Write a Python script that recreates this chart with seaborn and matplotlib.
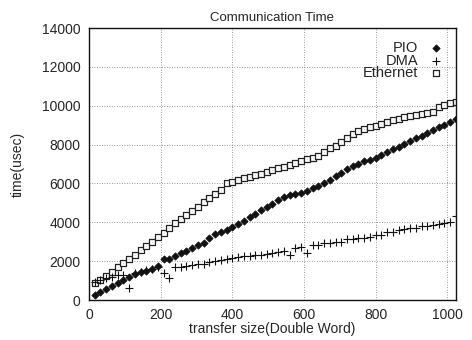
import numpy as np
import pandas as pd
import matplotlib
matplotlib.use('Agg')
import matplotlib.pyplot as plt
import seaborn as sns

# transfer size in double words
size = list(range(16, 1025, 16))

pio = [250, 400, 570, 740, 900, 1040, 1190, 1350, 1420, 1490, 1600, 1750,
       2100, 2110, 2280, 2400, 2540, 2680, 2830, 2960, 3200, 3380, 3480, 3600,
       3780, 3930, 4050, 4250, 4430, 4650, 4800, 4950, 5150, 5280, 5380, 5450,
       5530, 5620, 5750, 5870, 6000, 6190, 6380, 6560, 6720, 6880, 7010, 7130,
       7220, 7310, 7450, 7600, 7750, 7900, 8050, 8200, 8350, 8450, 8600, 8750,
       8880, 9020, 9150, 9320]

dma = [950, 1050, 1150, 1190, 1290, 1290, 620, 1390, 1450, 1550, 1600, 1700,
       1390, 1130, 1700, 1720, 1760, 1800, 1830, 1870, 1950, 2000, 2050, 2130,
       2160, 2200, 2240, 2280, 2300, 2340, 2380, 2420, 2470, 2500, 2330, 2680,
       2750, 2400, 2830, 2850, 2930, 2960, 2990, 3000, 3120, 3150, 3180, 3200,
       3240, 3350, 3350, 3480, 3520, 3600, 3660, 3700, 3720, 3800, 3820, 3850,
       3900, 3950, 4000, 4350]

ethernet = [900, 1030, 1230, 1460, 1700, 1900, 2130, 2330, 2550, 2800, 3000, 3250,
            3450, 3700, 3950, 4150, 4400, 4600, 4800, 5050, 5250, 5450, 5660, 6000,
            6100, 6180, 6260, 6330, 6420, 6500, 6600, 6680, 6780, 6870, 6950, 7030,
            7150, 7250, 7300, 7400, 7600, 7800, 7950, 8150, 8350, 8550, 8700, 8800,
            8880, 8950, 9050, 9150, 9250, 9330, 9400, 9470, 9530, 9600, 9650, 9700,
            9950, 10050, 10150, 10200]

df = pd.DataFrame({'size': size, 'PIO': pio, 'DMA': dma, 'Ethernet': ethernet})

sns.set_style('white')
plt.rcParams['font.family'] = ['Liberation Sans', 'DejaVu Sans']

fig = plt.figure(figsize=(4.72, 3.40), dpi=100)
ax = fig.add_axes([0.1886, 0.1176, 0.7774, 0.80])

# gnuplot style markers
sns.scatterplot(data=df, x='size', y='Ethernet', ax=ax, marker='s', s=22,
                facecolor='white', edgecolor='#222222', linewidth=0.9, label='Ethernet')
sns.scatterplot(data=df, x='size', y='Ethernet', ax=ax, marker='.', s=2,
                color='#444444', linewidth=0, legend=False)
sns.scatterplot(data=df, x='size', y='PIO', ax=ax, marker='D', s=14,
                color='#111111', edgecolor='#111111', linewidth=0.5, label='PIO')
sns.scatterplot(data=df, x='size', y='DMA', ax=ax, marker='+', s=30,
                color='#111111', linewidth=0.8, label='DMA')

ax.set_xlim(0, 1024)
ax.set_ylim(0, 14000)
ax.set_xticks(range(0, 1001, 200))
ax.set_yticks(range(0, 14001, 2000))
ax.grid(True, color='#777777', linestyle=(0, (1, 2)), linewidth=0.6)
ax.tick_params(axis='both', direction='in', length=3, labelsize=10, pad=6, color='#222222')
for sp in ax.spines.values():
    sp.set_color('#111111')
    sp.set_linewidth(1.0)

ax.set_title('Communication Time', fontsize=9.5, pad=5)
ax.set_xlabel('transfer size(Double Word)', fontsize=10, labelpad=0)
ax.set_ylabel('time(usec)', fontsize=10, labelpad=12)

h, l = ax.get_legend_handles_labels()
order = [l.index('PIO'), l.index('DMA'), l.index('Ethernet')]
ax.legend([h[i] for i in order], [l[i] for i in order], loc='upper right',
          markerfirst=False, frameon=False, fontsize=10.5, handletextpad=0.7,
          labelspacing=-0.1, borderaxespad=0.5, handlelength=1.0)

fig.savefig('out.png', dpi=100)
